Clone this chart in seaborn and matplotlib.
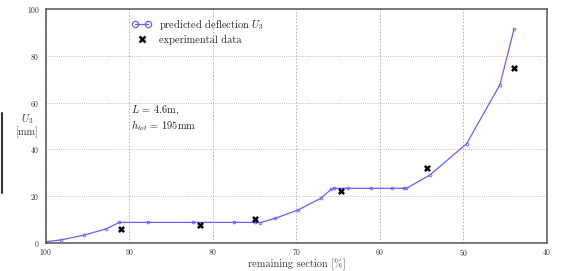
import matplotlib

matplotlib.use("Agg")
import matplotlib.pyplot as plt
import pandas as pd
import seaborn as sns
from matplotlib.legend_handler import HandlerLine2D
from matplotlib.lines import Line2D

# predicted deflection U3 vs remaining section
section_pred = [100.0, 98.2, 95.4, 92.8, 91.2, 87.8, 82.4, 77.5, 74.9, 74.3,
                72.5, 69.8, 67.1, 65.8, 65.5, 63.8, 61.0, 58.5, 57.1, 56.8,
                54.0, 49.6, 45.6, 43.9]
u3_pred = [0.4, 1.2, 3.3, 5.9, 8.7, 8.7, 8.7, 8.7, 8.7, 8.6,
           10.5, 14.0, 19.0, 22.9, 23.3, 23.3, 23.3, 23.3, 23.3, 23.3,
           29.0, 42.4, 67.7, 91.7]

# experimental data
section_exp = [91.0, 81.5, 74.9, 64.6, 54.4, 43.9]
u3_exp = [6.0, 7.6, 10.2, 22.3, 32.2, 74.8]

xticks = [100, 90, 80, 70, 60, 50, 40]
yticks = [0, 20, 40, 60, 80, 100]

pred = pd.DataFrame({"section": section_pred, "u3": u3_pred})
exp = pd.DataFrame({"section": section_exp, "u3": u3_exp})

sns.set_style("white")
plt.rcParams["font.family"] = ["cmr10", "DejaVu Serif"]
plt.rcParams["mathtext.fontset"] = "cm"
plt.rcParams["axes.formatter.use_mathtext"] = True

blue = "#6262ff"

fig = plt.figure(figsize=(5.63, 2.71), dpi=100)
ax = fig.add_axes([0.0817, 0.1044, 0.8893, 0.8613])

sns.lineplot(data=pred, x="section", y="u3", ax=ax, color=blue, lw=0.9,
             marker="o", markersize=2, markerfacecolor="none",
             markeredgecolor=blue, markeredgewidth=0.6, sort=False)
sns.scatterplot(data=exp, x="section", y="u3", ax=ax, marker="x", s=14,
                color="black", linewidth=1.8, zorder=5)

ax.set_xlim(100, 40)
ax.set_ylim(0, 100)
ax.set_xticks(xticks)
ax.set_yticks(yticks)
ax.tick_params(length=0, labelsize=5.5, colors="#333333")
ax.tick_params(axis="y", pad=4.5)
ax.tick_params(axis="x", pad=3)

ax.grid(True, axis="x", color="#aaaaaa", lw=0.6, ls=(0, (2, 2)))
ax.grid(True, axis="y", color="#aaaaaa", lw=0.6, ls=(0, (1, 1.5)))
for sp in ax.spines.values():
    sp.set_color("#555555")
    sp.set_linewidth(1.1)

ax.set_xlabel("remaining section [%]", fontsize=7.5, color="#333333")
ax.xaxis.set_label_coords(0.5, -0.07)
ax.set_ylabel("$U_3$\n[mm]", fontsize=7.5, rotation=0, color="#333333",
              ha="center", va="center", linespacing=1.1)
ax.yaxis.set_label_coords(-0.037, 0.505)

ax.text(89.8, 59.5, "$L$ = 4.6m,\n$h_{tot}$ = 195mm", fontsize=7.5,
        va="top", ha="left", color="#222222", linespacing=1.1)

h_pred = Line2D([], [], color=blue, lw=0.9, marker="o", markersize=4.5,
                markerfacecolor="none", markeredgewidth=0.9)
h_exp = Line2D([], [], color="black", lw=0, marker="x", markersize=4.5,
               markeredgewidth=1.8)
ax.legend([h_pred, h_exp], ["predicted deflection $U_3$", "experimental data"],
          handler_map={h_exp: HandlerLine2D(numpoints=1)},
          loc="upper left", bbox_to_anchor=(0.16, 0.99), frameon=False,
          fontsize=7.5, numpoints=2, handlelength=1.8, handletextpad=0.8,
          labelspacing=0.3, borderaxespad=0.2, labelcolor="#222222")

# dark bar at left edge
fig.add_artist(Line2D([0.003, 0.003], [0.288, 0.584], color="#333333",
                      lw=1.5, transform=fig.transFigure))

fig.savefig("out.png", dpi=100)
